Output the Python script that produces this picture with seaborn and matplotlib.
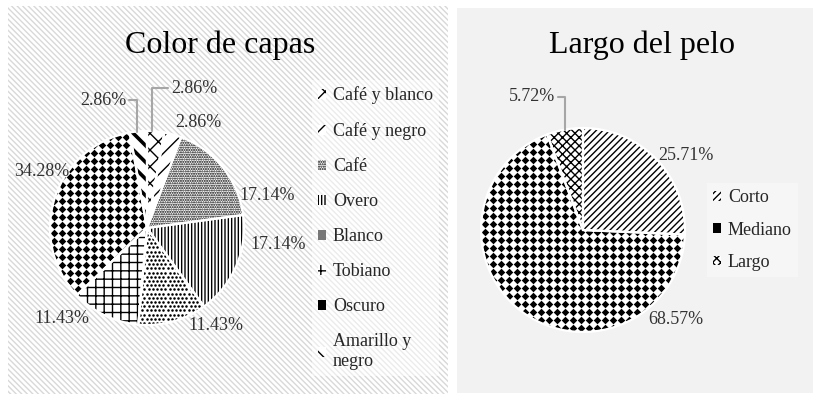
import numpy as np
import matplotlib
matplotlib.use("Agg")
import matplotlib.pyplot as plt
from matplotlib.patches import Rectangle, Patch
import seaborn as sns

# data
capas_labels = ["Café y blanco", "Café y negro", "Café", "Overo", "Blanco",
                "Tobiano", "Oscuro", "Amarillo y\nnegro"]
capas_pct = [2.86, 2.86, 17.14, 17.14, 11.43, 11.43, 34.28, 2.86]

pelo_labels = ["Corto", "Mediano", "Largo"]
pelo_pct = [25.71, 68.57, 5.72]

# styles (hatches / marker textures stand in for the Excel pattern fills)
capas_hatch = ["xx", "//", ".......", "|||||", None, "++", None, "\\\\"]
# texture: (marker, grid step px, marker size, staggered rows)
capas_texture = [None, None, None, None, ("o", 4.2, 3.4, True), None,
                 ("D", 8.0, 15, False), None]
capas_thick = [False, False, False, False, False, False, False, True]
pelo_hatch = ["/////", None, "xxxx"]
pelo_texture = [None, ("D", 8.0, 15, False), None]
pelo_thick = [False, False, False]

# label layout: (angle clockwise from 12 o'clock, distance in radii), leader target angle
capas_lbl_pos = [(18.6, 1.52), (26, 1.21), (75, 1.28), (97, 1.36),
                 (145, 1.23), (223, 1.28), (298, 1.23), (341, 1.395)]
capas_leader = [3, None, None, None, None, None, None, 354]
pelo_lbl_pos = [(54, 1.25), (134, 1.27), (339, 1.40)]
pelo_leader = [None, None, 350]

W, H = 823, 397

sns.set_theme(style="white")
plt.rcParams["font.family"] = ["Liberation Serif", "DejaVu Serif"]
plt.rcParams["hatch.linewidth"] = 1.0

fig = plt.figure(figsize=(W / 100, H / 100), dpi=100)


def fig_box(x0, y0, x1, y1):
    # pixel box with top-left origin -> figure fraction rect
    return [x0 / W, 1 - y1 / H, (x1 - x0) / W, (y1 - y0) / H]


# panel backgrounds
left_bg = Rectangle((8 / W, 1 - 394 / H), 440 / W, 388 / H, transform=fig.transFigure,
                    facecolor="white", edgecolor="#d8d8d8", hatch="\\\\\\\\\\\\", lw=0, zorder=-2)
right_bg = Rectangle((457 / W, 1 - 393 / H), 356 / W, 385 / H, transform=fig.transFigure,
                     facecolor="#f2f2f2", edgecolor="none", lw=0, zorder=-2)
fig.add_artist(left_bg)
fig.add_artist(right_bg)


def texture(ax, wedge, spec, r):
    marker, step_px, size, stagger = spec
    step = step_px / r
    g = np.arange(-1 + step / 2, 1, step)
    gx, gy = np.meshgrid(g, g)
    if stagger:
        gx = gx + (np.arange(len(g))[:, None] % 2) * step / 2
    sc = ax.scatter(gx.ravel(), gy.ravel(), marker=marker, s=size, c="black",
                    linewidths=0, zorder=1.5)
    sc.set_clip_path(wedge)


def draw_pie(cx, cy, r, values, hatches, textures, thick, lbl_pos, leaders):
    ax = fig.add_axes(fig_box(cx - r, cy - r, cx + r, cy + r))
    n = len(values)
    wedges, _ = ax.pie(values, startangle=90, counterclock=False, radius=1,
                       colors=["white"] * n,
                       wedgeprops=dict(edgecolor="black", linewidth=0))
    for w, h, tx, t in zip(wedges, hatches, textures, thick):
        if h:
            w.set_hatch(h)
        if t and hasattr(w, "set_hatch_linewidth"):
            w.set_hatch_linewidth(2.6)
        if tx:
            texture(ax, w, tx, r)
    # white separators drawn on top
    ax.pie(values, startangle=90, counterclock=False, radius=1,
           colors=["none"] * n,
           wedgeprops=dict(edgecolor="white", linewidth=1.6, zorder=2))
    ax.set_xlim(-1, 1)
    ax.set_ylim(-1, 1)
    ax.axis("off")
    for v, (ang, dist), lead in zip(values, lbl_pos, leaders):
        a = np.deg2rad(ang)
        x, y = dist * np.sin(a), dist * np.cos(a)
        txt = f"{v:.2f}%"
        if lead is None:
            ax.text(x, y, txt, ha="center", va="center", fontsize=13, color="#333333")
        else:
            b = np.deg2rad(lead)
            ax.annotate(txt, xy=(np.sin(b), np.cos(b)), xytext=(x, y),
                        ha="center", va="center", fontsize=13, color="#333333",
                        annotation_clip=False,
                        arrowprops=dict(arrowstyle="-", color="#a6a6a6", lw=1.5,
                                        shrinkA=0, shrinkB=0,
                                        connectionstyle="angle,angleA=0,angleB=90,rad=0"))
    return wedges


draw_pie(147, 228, 97, capas_pct, capas_hatch, capas_texture, capas_thick,
         capas_lbl_pos, capas_leader)
draw_pie(583, 230, 102, pelo_pct, pelo_hatch, pelo_texture, pelo_thick,
         pelo_lbl_pos, pelo_leader)

fig.text(220 / W, 1 - 45 / H, "Color de capas", ha="center", va="center",
         fontsize=23, color="black")
fig.text(642 / W, 1 - 45 / H, "Largo del pelo", ha="center", va="center",
         fontsize=23, color="black")


def proxies(hatches, textures):
    out = []
    for h, tx in zip(hatches, textures):
        if tx is None:
            fc = "white"
        else:
            fc = "black" if tx[0] == "D" else "#777777"
        out.append(Patch(facecolor=fc, edgecolor="black", hatch=h, lw=0))
    return out


leg_kw = dict(loc="upper left", fontsize=13, handlelength=0.45, handleheight=0.45,
              handletextpad=0.35, borderpad=0.35, borderaxespad=0, fancybox=False,
              labelcolor="#262626")
leg1 = fig.legend(proxies(capas_hatch, capas_texture), capas_labels,
                  bbox_to_anchor=(312 / W, 1 - 80 / H), labelspacing=1.0, **leg_kw)
leg1.get_frame().set_facecolor("white")
leg1.get_frame().set_alpha(0.5)
leg1.get_frame().set_linewidth(0)

leg2 = fig.legend(proxies(pelo_hatch, pelo_texture), pelo_labels,
                  bbox_to_anchor=(707 / W, 1 - 183 / H), labelspacing=0.85, **leg_kw)
leg2.get_frame().set_facecolor("#f8f8f8")
leg2.get_frame().set_linewidth(0)

fig.savefig("out.png", dpi=100, facecolor="white")
